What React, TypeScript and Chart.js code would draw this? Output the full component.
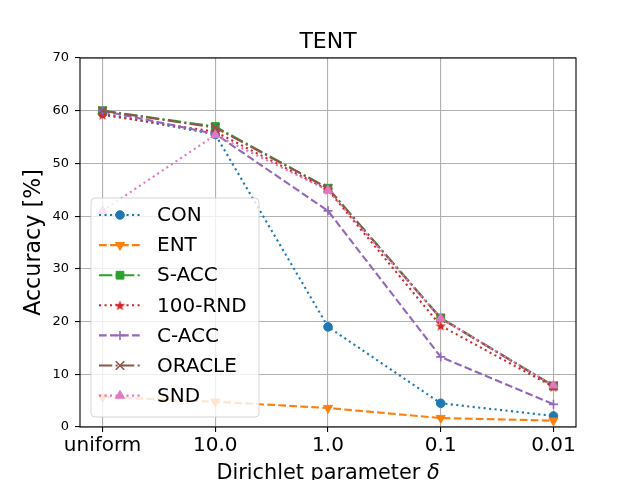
import React, { useEffect, useRef } from 'react';
import { Chart, registerables } from 'chart.js';
import { drawPoint } from 'chart.js/helpers';

Chart.register(...registerables);

// ---- data ----
const chartTitle = 'TENT';
const xAxisTitle = 'Dirichlet parameter ';
const xAxisSymbol = 'δ';
const yAxisTitle = 'Accuracy [%]';
const categories = ['uniform', '10.0', '1.0', '0.1', '0.01'];
const yTickValues = [0, 10, 20, 30, 40, 50, 60, 70];
const seriesNames = ['CON', 'ENT', 'S-ACC', '100-RND', 'C-ACC', 'ORACLE', 'SND'];
const conValues = [59.5, 55.5, 19.0, 4.5, 2.1];
const entValues = [5.7, 4.8, 3.6, 1.7, 1.2];
const saccValues = [60.0, 57.0, 45.3, 20.7, 7.8];
const rndValues = [59.2, 56.0, 45.0, 19.2, 7.6];
const caccValues = [60.0, 55.6, 41.0, 13.3, 4.3];
const oracleValues = [60.0, 56.8, 45.3, 20.6, 7.8];
const sndValues = [41.0, 55.4, 44.9, 20.6, 7.9];
const seriesValues = [conValues, entValues, saccValues, rndValues, caccValues, oracleValues, sndValues];

// ---- styles ----
const FONT = 'DejaVu Sans';
const DOTTED = [2.1, 3.4];
const DASHED = [7.7, 3.3];
const DASHDOT = [13.3, 3.3, 2.1, 3.3];

function makeStar(color: string): HTMLCanvasElement {
  const s = 13;
  const c = document.createElement('canvas');
  c.width = s;
  c.height = s;
  const g = c.getContext('2d')!;
  g.fillStyle = color;
  g.beginPath();
  const cx = s / 2, cy = s / 2 + 0.5, ro = 5.6, ri = 2.3;
  for (let i = 0; i < 10; i++) {
    const r = i % 2 === 0 ? ro : ri;
    const a = -Math.PI / 2 + (i * Math.PI) / 5;
    const x = cx + r * Math.cos(a);
    const y = cy + r * Math.sin(a);
    if (i === 0) g.moveTo(x, y);
    else g.lineTo(x, y);
  }
  g.closePath();
  g.fill();
  return c;
}

type Style = { color: string; dash: number[]; marker: any; radius: number; rotation: number; bw: number };

function buildStyles(): Style[] {
  return [
    { color: '#1f77b4', dash: DOTTED, marker: 'circle', radius: 4.3, rotation: 0, bw: 1 },
    { color: '#ff7f0e', dash: DASHED, marker: 'triangle', radius: 5.2, rotation: 180, bw: 1 },
    { color: '#2ca02c', dash: DASHDOT, marker: 'rect', radius: 5.5, rotation: 0, bw: 1 },
    { color: '#d62728', dash: DOTTED, marker: makeStar('#d62728'), radius: 6, rotation: 0, bw: 0 },
    { color: '#9467bd', dash: DASHED, marker: 'cross', radius: 4.5, rotation: 0, bw: 1.6 },
    { color: '#8c564b', dash: DASHDOT, marker: 'crossRot', radius: 6, rotation: 0, bw: 1.6 },
    { color: '#e377c2', dash: DOTTED, marker: 'triangle', radius: 5.2, rotation: 0, bw: 1 },
  ];
}

export default function App() {
  const ref = useRef<HTMLCanvasElement | null>(null);

  useEffect(() => {
    const canvas = ref.current;
    if (!canvas) return;
    const styles = buildStyles();

    const datasets = seriesNames.map((name, i) => {
      const st = styles[i];
      return {
        label: name,
        data: seriesValues[i].map((v, j) => ({ x: j, y: v })),
        borderColor: st.color,
        backgroundColor: st.color,
        borderWidth: 2.1,
        borderDash: st.dash,
        pointStyle: st.marker,
        pointRadius: st.radius,
        pointRotation: st.rotation,
        pointBorderWidth: st.bw,
        pointBackgroundColor: st.color,
        pointBorderColor: st.color,
        order: -i,
        tension: 0,
      };
    });

    const titlePlugin = {
      id: 'mplTitle',
      afterDraw(chart: any) {
        const { ctx, chartArea: a } = chart;
        const cx = (a.left + a.right) / 2;
        ctx.save();
        ctx.fillStyle = '#000';
        ctx.font = `22px "${FONT}"`;
        ctx.textAlign = 'center';
        ctx.textBaseline = 'alphabetic';
        ctx.fillText(chartTitle, cx, 48);
        // x axis title: normal text + italic symbol
        const normalFont = `20.8px "${FONT}"`;
        const italicFont = `italic 20.8px "${FONT}"`;
        ctx.font = normalFont;
        const w1 = ctx.measureText(xAxisTitle).width;
        ctx.font = italicFont;
        const w2 = ctx.measureText(xAxisSymbol).width;
        const x0 = cx - (w1 + w2) / 2;
        ctx.textAlign = 'left';
        ctx.font = normalFont;
        ctx.fillText(xAxisTitle, x0, 478.5);
        ctx.font = italicFont;
        ctx.fillText(xAxisSymbol, x0 + w1, 478.5);
        ctx.restore();
      },
    };

    const framePlugin = {
      id: 'mplFrame',
      afterDatasetsDraw(chart: any) {
        const { ctx, chartArea: a } = chart;
        ctx.save();
        ctx.strokeStyle = '#000';
        ctx.lineWidth = 1.1;
        ctx.strokeRect(a.left, a.top, a.right - a.left, a.bottom - a.top);
        ctx.restore();
      },
    };

    const legendPlugin = {
      id: 'mplLegend',
      afterDraw(chart: any) {
        const { ctx } = chart;
        const bx = 91, by = 198, bw = 168, bh = 219, r = 4;
        ctx.save();
        ctx.beginPath();
        ctx.moveTo(bx + r, by);
        ctx.lineTo(bx + bw - r, by);
        ctx.arcTo(bx + bw, by, bx + bw, by + r, r);
        ctx.lineTo(bx + bw, by + bh - r);
        ctx.arcTo(bx + bw, by + bh, bx + bw - r, by + bh, r);
        ctx.lineTo(bx + r, by + bh);
        ctx.arcTo(bx, by + bh, bx, by + bh - r, r);
        ctx.lineTo(bx, by + r);
        ctx.arcTo(bx, by, bx + r, by, r);
        ctx.closePath();
        ctx.fillStyle = 'rgba(255,255,255,0.8)';
        ctx.fill();
        ctx.strokeStyle = 'rgba(204,204,204,0.8)';
        ctx.lineWidth = 1;
        ctx.stroke();

        seriesNames.forEach((name, i) => {
          const st = styles[i];
          const y = 215 + i * 30.1;
          ctx.save();
          ctx.strokeStyle = st.color;
          ctx.lineWidth = 2.1;
          ctx.setLineDash(st.dash);
          ctx.beginPath();
          ctx.moveTo(99, y);
          ctx.lineTo(141, y);
          ctx.stroke();
          ctx.setLineDash([]);
          ctx.fillStyle = st.color;
          ctx.strokeStyle = st.color;
          ctx.lineWidth = st.bw;
          drawPoint(ctx, { pointStyle: st.marker, rotation: st.rotation, radius: st.radius, borderWidth: st.bw }, 120, y);
          ctx.restore();
          ctx.fillStyle = '#000';
          ctx.font = `20px "${FONT}"`;
          ctx.textAlign = 'left';
          ctx.textBaseline = 'middle';
          ctx.fillText(name, 157, y + 1);
        });
        ctx.restore();
      },
    };

    const chart = new Chart(canvas, {
      type: 'line',
      data: { datasets: datasets as any },
      plugins: [titlePlugin, framePlugin, legendPlugin],
      options: {
        animation: false,
        responsive: false,
        devicePixelRatio: 1,
        layout: { padding: { left: 0, top: 58, right: 64, bottom: 0 } },
        plugins: {
          legend: { display: false },
          title: { display: false },
          tooltip: { enabled: false },
        },
        scales: {
          x: {
            type: 'linear',
            min: -0.2,
            max: 4.2,
            afterBuildTicks: (scale: any) => {
              scale.ticks = categories.map((_, i) => ({ value: i }));
            },
            afterFit: (scale: any) => {
              scale.height = 53;
            },
            border: { display: false },
            grid: {
              color: '#b0b0b0',
              lineWidth: 1.1,
              tickColor: '#000',
              tickLength: 5,
              drawTicks: true,
            },
            ticks: {
              autoSkip: false,
              maxRotation: 0,
              padding: 2,
              color: '#000',
              font: { family: FONT, size: 20 },
              callback: (v: any) => categories[Math.round(Number(v))] ?? '',
            },
            title: { display: false },
          },
          y: {
            type: 'linear',
            min: 0,
            max: 70,
            afterBuildTicks: (scale: any) => {
              scale.ticks = yTickValues.map((v) => ({ value: v }));
            },
            afterFit: (scale: any) => {
              scale.width = 80;
            },
            border: { display: false },
            grid: {
              color: '#b0b0b0',
              lineWidth: 1.1,
              tickColor: '#000',
              tickLength: 5,
              drawTicks: true,
            },
            ticks: {
              padding: 6,
              color: '#000',
              font: { family: FONT, size: 13 },
              callback: (v: any) => String(v),
            },
            title: {
              display: true,
              text: yAxisTitle,
              color: '#000',
              font: { family: FONT, size: 22.2, lineHeight: 1 },
              padding: { top: 23, bottom: 0 },
            },
          },
        },
      },
    });

    return () => chart.destroy();
  }, []);

  return (
    <div style={{ position: 'fixed', left: 0, top: 0, width: 640, height: 480, background: '#fff' }}>
      <canvas ref={ref} width={640} height={480} style={{ width: 640, height: 480 }} />
    </div>
  );
}
